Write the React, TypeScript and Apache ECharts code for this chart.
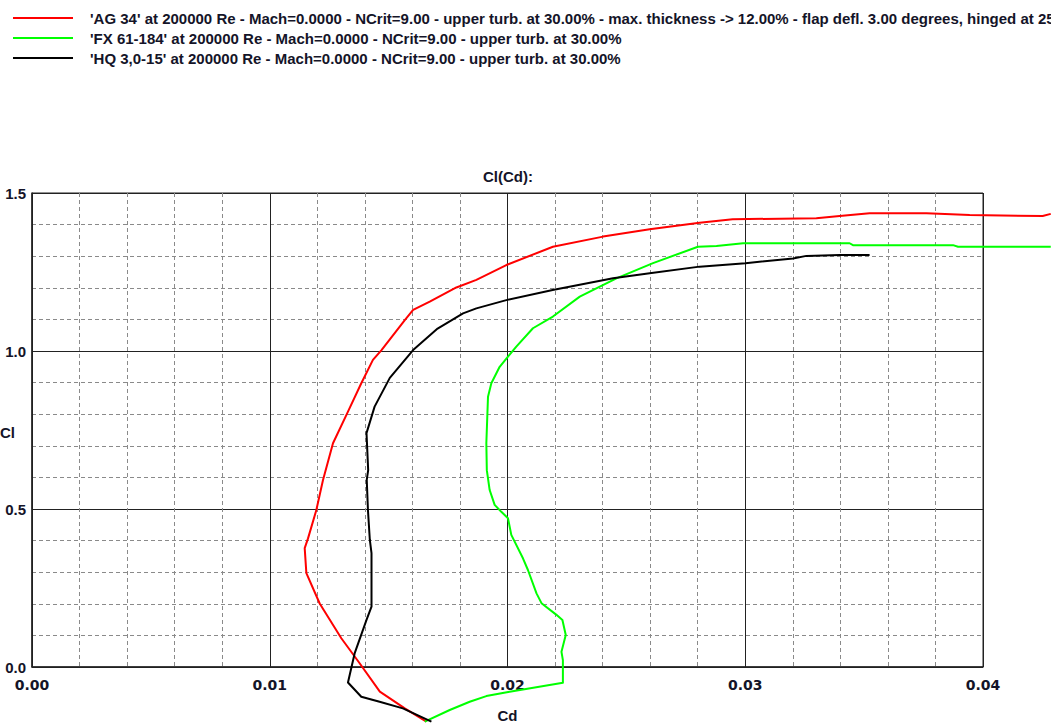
import React, { useEffect, useRef } from "react";
import * as echarts from "echarts";

const seriesNames = [
  "'AG 34' at 200000 Re - Mach=0.0000 - NCrit=9.00 - upper turb. at 30.00% - max. thickness -> 12.00% - flap defl. 3.00 degrees, hinged at 25.00%",
  "'FX 61-184' at 200000 Re - Mach=0.0000 - NCrit=9.00 - upper turb. at 30.00%",
  "'HQ 3,0-15' at 200000 Re - Mach=0.0000 - NCrit=9.00 - upper turb. at 30.00%",
];
const seriesColors = ["#ff0000", "#00ff00", "#000000"];

const xTicks = ["0.00", "0.01", "0.02", "0.03", "0.04"];
const yTicks = ["0.0", "0.5", "1.0", "1.5"];

// AG 34
const ag34Cd = [0.01659, 0.01568, 0.01463, 0.01378, 0.01301, 0.0121, 0.01154, 0.01147, 0.01161, 0.01196, 0.01224, 0.01266, 0.01329, 0.01385, 0.01434, 0.0147, 0.01568, 0.01603, 0.01673, 0.01785, 0.01869, 0.01995, 0.02191, 0.02402, 0.02598, 0.02808, 0.02947, 0.03299, 0.03397, 0.03523, 0.03762, 0.03944, 0.04251, 0.04285];
const ag34Cl = [-0.173, -0.131, -0.078, 0.012, 0.091, 0.201, 0.297, 0.376, 0.407, 0.497, 0.592, 0.708, 0.808, 0.898, 0.972, 1.003, 1.098, 1.13, 1.156, 1.201, 1.225, 1.272, 1.33, 1.362, 1.385, 1.406, 1.417, 1.42, 1.427, 1.436, 1.436, 1.43, 1.427, 1.434];

// FX 61-184
const fx61Cd = [0.01652, 0.01757, 0.01841, 0.01911, 0.02009, 0.02233, 0.02233, 0.02227, 0.02245, 0.02231, 0.02206, 0.02143, 0.02122, 0.02086, 0.02065, 0.02016, 0.02002, 0.01974, 0.01946, 0.01925, 0.01913, 0.01911, 0.01918, 0.01932, 0.01967, 0.02002, 0.02037, 0.02107, 0.02191, 0.02304, 0.02458, 0.02612, 0.02801, 0.02879, 0.02991, 0.03439, 0.03453, 0.03874, 0.03895, 0.04285];
const fx61Cl = [-0.173, -0.136, -0.11, -0.092, -0.078, -0.05, 0.022, 0.048, 0.101, 0.149, 0.165, 0.202, 0.233, 0.307, 0.344, 0.418, 0.471, 0.491, 0.513, 0.56, 0.623, 0.708, 0.855, 0.898, 0.95, 0.982, 1.014, 1.072, 1.109, 1.172, 1.23, 1.278, 1.33, 1.332, 1.341, 1.341, 1.335, 1.335, 1.33, 1.33];

// HQ 3,0-15
const hq30Cd = [0.0168, 0.0156, 0.01462, 0.01385, 0.01329, 0.01357, 0.01407, 0.01428, 0.01428, 0.01421, 0.01413, 0.01408, 0.01414, 0.01407, 0.01441, 0.01505, 0.01603, 0.01706, 0.01813, 0.01869, 0.01995, 0.0219, 0.02444, 0.02598, 0.02808, 0.03001, 0.03201, 0.03257, 0.03397, 0.03523];
const hq30Cl = [-0.173, -0.131, -0.11, -0.094, -0.049, 0.043, 0.149, 0.191, 0.36, 0.402, 0.497, 0.592, 0.623, 0.74, 0.824, 0.915, 1.003, 1.071, 1.119, 1.135, 1.161, 1.193, 1.23, 1.246, 1.267, 1.278, 1.293, 1.301, 1.304, 1.304];

const cdSets = [ag34Cd, fx61Cd, hq30Cd];
const clSets = [ag34Cl, fx61Cl, hq30Cl];

const FONT = "'Liberation Sans', Arial, sans-serif";
const WIDE_FONT = "'DejaVu Sans', 'Liberation Sans', sans-serif";
const TEXT_COLOR = "#141428";

export default function App() {
  const ref = useRef<HTMLDivElement>(null);
  useEffect(() => {
    if (!ref.current) return;
    const chart = echarts.init(ref.current, undefined, { renderer: "svg" });
    const series = seriesNames.map((name, i) => {
      const pts = cdSets[i].map((cd, k) => [cd, clSets[i][k]]);
      const color = seriesColors[i];
      return {
        name,
        type: "custom",
        data: pts,
        encode: { x: 0, y: 1 },
        clip: false,
        z: 3 + i,
        itemStyle: { color },
        renderItem: (params: any, api: any) => {
          if (params.dataIndex !== 0) return { type: "group", children: [] };
          return {
            type: "polyline",
            silent: true,
            shape: { points: pts.map((p) => api.coord(p)) },
            style: { stroke: color, lineWidth: 2, fill: null, lineJoin: "round" },
          };
        },
      };
    });
    chart.setOption({
      animation: false,
      textStyle: { fontFamily: FONT },
      grid: {
        left: 32,
        top: 193,
        right: 68,
        bottom: 56,
        show: true,
        borderColor: "#222",
        borderWidth: 1,
        backgroundColor: "transparent",
        outerBoundsMode: "none",
      },
      legend: {
        orient: "vertical",
        left: 13,
        top: 10,
        padding: 0,
        itemWidth: 60,
        itemHeight: 2,
        itemGap: 4,
        icon: "rect",
        selectedMode: false,
        data: seriesNames,
        textStyle: {
          fontFamily: FONT,
          fontSize: 15,
          fontWeight: "bold",
          color: TEXT_COLOR,
          lineHeight: 16,
          padding: [0, 0, 0, 12],
        },
      },
      xAxis: {
        type: "value",
        min: 0,
        max: 0.04,
        interval: 0.01,
        name: "Cd",
        nameLocation: "middle",
        nameGap: 41,
        nameTextStyle: { fontFamily: FONT, fontSize: 15, fontWeight: "bold", color: TEXT_COLOR },
        axisLine: { show: true, onZero: false, lineStyle: { color: "#222", width: 1.5 } },
        axisTick: { show: false },
        axisLabel: {
          fontFamily: WIDE_FONT,
          fontSize: 14,
          fontWeight: "bold",
          color: TEXT_COLOR,
          margin: 11,
          formatter: (v: number) => xTicks[Math.round(v / 0.01)] ?? v.toFixed(2),
        },
        splitLine: { show: true, lineStyle: { color: "#222", width: 1 } },
        minorTick: { show: false, splitNumber: 5 },
        minorSplitLine: { show: true, lineStyle: { color: "#8a8a8a", width: 1, type: [4, 3] } },
      },
      yAxis: {
        type: "value",
        min: 0,
        max: 1.5,
        interval: 0.5,
        axisLine: { show: true, onZero: false, lineStyle: { color: "#222", width: 1.5 } },
        axisTick: { show: false },
        axisLabel: {
          fontFamily: FONT,
          fontSize: 15,
          fontWeight: "bold",
          color: TEXT_COLOR,
          margin: 6,
          formatter: (v: number) => yTicks[Math.round(v / 0.5)] ?? v.toFixed(1),
        },
        splitLine: { show: true, lineStyle: { color: "#222", width: 1 } },
        minorTick: { show: false, splitNumber: 5 },
        minorSplitLine: { show: true, lineStyle: { color: "#8a8a8a", width: 1, type: [4, 3] } },
      },
      graphic: [
        {
          type: "text",
          x: 508,
          y: 176,
          style: {
            text: "Cl(Cd):",
            fontFamily: FONT,
            fontSize: 15,
            fontWeight: "bold",
            fill: TEXT_COLOR,
            align: "center",
            verticalAlign: "middle",
          },
        },
        {
          type: "text",
          x: 0,
          y: 432,
          style: {
            text: "Cl",
            fontFamily: FONT,
            fontSize: 15,
            fontWeight: "bold",
            fill: TEXT_COLOR,
            align: "left",
            verticalAlign: "middle",
          },
        },
      ],
      series,
    });
    return () => chart.dispose();
  }, []);
  return (
    <div
      ref={ref}
      style={{ position: "absolute", left: 0, top: 0, width: 1051, height: 723, background: "#fff" }}
    />
  );
}
